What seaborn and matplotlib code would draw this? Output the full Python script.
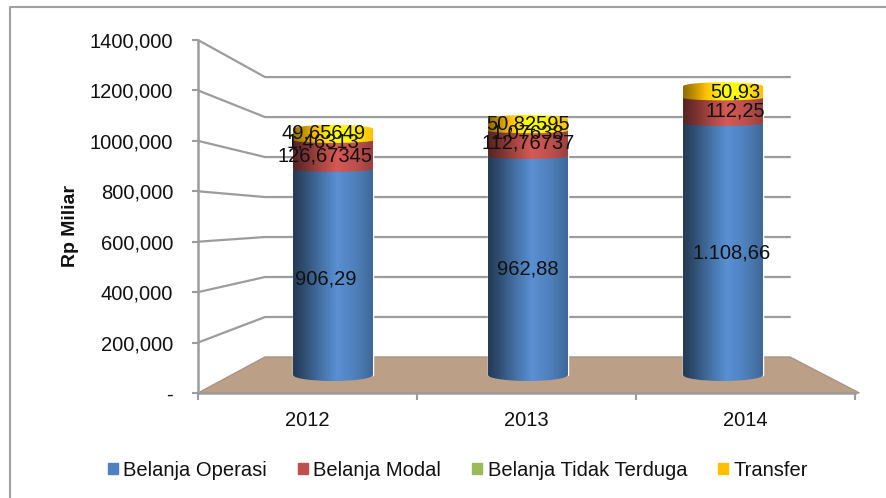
import matplotlib
matplotlib.use("Agg")
import matplotlib.pyplot as plt
import numpy as np
import pandas as pd
import seaborn as sns
from matplotlib.colors import to_rgb
from matplotlib.lines import Line2D
from matplotlib.patches import Ellipse, Patch, PathPatch, Polygon
from matplotlib.path import Path

years = ["2012", "2013", "2014"]
series = ["Belanja Operasi", "Belanja Modal", "Belanja Tidak Terduga", "Transfer"]
operasi = [906.29, 962.88, 1108.66]
modal = [126.67345, 112.76737, 112.25]
tak_terduga = [1.46313, 1.07638, 0.0]
transfer = [49.65649, 50.82595, 50.93]
labels = [
    ["906,29", "962,88", "1.108,66"],
    ["126,67345", "112,76737", "112,25"],
    ["1,46313", "1,07638", "-"],
    ["49,65649", "50,82595", "50,93"],
]
colors = ["#4F81BD", "#C0504D", "#9BBB59", "#FFC000"]
y_ticks = [0, 200, 400, 600, 800, 1000, 1200, 1400]
y_labels = ["-", "200,000", "400,000", "600,000", "800,000", "1000,000", "1200,000", "1400,000"]

W, H = 886, 498
# label nudges in pixels, per series and year
x_nudge = [[-7, 0, 9], [-8, 0, 12], [-10, 0, 12], [-9, 0, 12]]
y_nudge = [[-7, -3, -4], [-1, 1, 0], [-2, -2, 0], [2, 1, 0]]
lift = [1.0, 1.0, 1.0, 1.25]  # gold side is less dark in the original
PX = 0.227  # bar pixels per unit
GRID = "#9C9C9C"


def box(left, top, right, bottom):
    return [left / W, 1 - bottom / H, (right - left) / W, (bottom - top) / H]


def shaded(color, boost=1.0):
    stops = np.array([0.0, 0.12, 0.35, 0.55, 0.8, 1.0])
    gain = np.array([0.45, 0.58, 0.88, 1.12, 0.98, 0.8])
    xs = np.linspace(0, 1, 160)
    g = np.interp(xs, stops, gain) * boost
    rgb = np.array(to_rgb(color))
    return np.clip(g[:, None] * rgb, 0, 1)[None, :, :]


def cylinder_side(x0, x1, y0, y1, sag):
    # rectangle with a curved lower edge
    k = 0.5523
    xc = (x0 + x1) / 2
    rx = (x1 - x0) / 2
    verts = [(x0, y1), (x1, y1), (x1, y0),
             (x1, y0 - k * sag), (xc + k * rx, y0 - sag), (xc, y0 - sag),
             (xc - k * rx, y0 - sag), (x0, y0 - k * sag), (x0, y0), (x0, y1)]
    codes = [Path.MOVETO, Path.LINETO, Path.LINETO,
             Path.CURVE4, Path.CURVE4, Path.CURVE4,
             Path.CURVE4, Path.CURVE4, Path.CURVE4, Path.CLOSEPOLY]
    return Path(verts, codes)


sns.set_theme(style="white")
plt.rcParams["font.family"] = ["Liberation Sans", "DejaVu Sans"]
fig = plt.figure(figsize=(W / 100, H / 100), dpi=100)

# chart border, only the top and left edges are in the picture
fig.add_artist(Line2D([10 / W, 10 / W, 1], [0, 1 - 7 / H, 1 - 7 / H], transform=fig.transFigure,
                      color="#A0A0A0", lw=1.5))

# walls and floor, axis is the front edge of the 3d box
ax = fig.add_axes(box(198, 40, 855, 393))
ax.set_xlim(0, 3)
ax.set_ylim(0, 1400)
ax.patch.set_alpha(0)
back_l, back_r = 0.306, 2.703
back = lambda v: 142.8 + v * 0.793

ax.add_patch(Polygon([(0, 0), (back_l, back(0)), (back_r, back(0)), (3.02, 0)],
                     closed=True, fc="#BC9F87", ec="#A89484", lw=1, clip_on=False))
for v in y_ticks[1:]:
    ax.plot([0, back_l, back_r], [v, back(v), back(v)], color=GRID, lw=1.6)

ax.set_xticks([0, 1, 2, 3])
ax.set_xticklabels([])
ax.set_xticks([0.5, 1.5, 2.5], labels=years, minor=True)
ax.set_yticks(y_ticks, labels=y_labels)
ax.tick_params(axis="y", length=4.5, width=1.5, color=GRID, pad=13.5, labelsize=14.5,
               labelcolor="#111111", left=True)
ax.tick_params(axis="x", which="major", length=5, width=1.5, color=GRID, bottom=True)
ax.tick_params(axis="x", which="minor", length=0, pad=13, labelsize=14.5, labelcolor="#111111")
sns.despine(ax=ax, top=True, right=True)
for side in ["left", "bottom"]:
    ax.spines[side].set_color(GRID)
    ax.spines[side].set_linewidth(1.8)
ax.set_ylabel("Rp Miliar", fontsize=14, fontweight="bold", color="#111111")
ax.yaxis.set_label_coords((79 - 198) / 657, (393 - 226) / 353)

# bars sit mid depth, so on their own scale
bx = fig.add_axes(box(198, 40, 855, 393))
bx.patch.set_alpha(0)

df = pd.DataFrame({"year": years, series[0]: operasi, series[1]: modal,
                   series[2]: tak_terduga, series[3]: transfer})
bottom = np.zeros(len(years))
mids = []
sag = [6.0, 2.5, 2.5, 2.5]
for s, name in enumerate(series):
    vals = df[name].to_numpy()
    sns.barplot(data=df, x="year", y=name, bottom=bottom, color=colors[s], width=0.41,
                saturation=1, ax=bx, errorbar=None)
    mids.append(bottom + vals / 2)
    bottom = bottom + vals

per_unit = 1 / PX
bars = bx.patches
for s in range(len(series)):
    for i in range(len(years)):
        r = bars[s * len(years) + i]
        if r.get_height() <= 0:
            continue
        x0, x1 = r.get_x(), r.get_x() + r.get_width()
        y0, y1 = r.get_y(), r.get_y() + r.get_height()
        path = cylinder_side(x0, x1, y0, y1, sag[s] * per_unit)
        im = bx.imshow(shaded(colors[s], lift[s]), extent=(x0, x1, y0 - 8 * per_unit, y1 + 1), aspect="auto",
                       zorder=3 + s, interpolation="bilinear")
        im.set_clip_path(PathPatch(path, transform=bx.transData))
        if s == len(series) - 1:
            cap = Ellipse(((x0 + x1) / 2, y1), x1 - x0, 8 * per_unit, transform=bx.transData)
            top = bx.imshow(shaded(colors[s], lift[s]), extent=(x0, x1, y1 - 5 * per_unit, y1 + 5 * per_unit),
                            aspect="auto", zorder=3 + s, interpolation="bilinear")
            top.set_clip_path(cap)
bx.set_xlim((198 - 333) / 195, (855 - 333) / 195)
bx.set_ylim(-18 / PX, 335 / PX)
bx.axis("off")

for s in range(len(series)):
    for i in range(len(years)):
        bx.annotate(labels[s][i], (i, mids[s][i]), xytext=(x_nudge[s][i] * 0.72, y_nudge[s][i] * 0.72),
                    textcoords="offset points", ha="center", va="center", fontsize=14.5,
                    color="#111111", zorder=20)

handles = [Patch(color=c, label=n) for c, n in zip(colors, series)]
fig.legend(handles=handles, ncols=4, frameon=False, fontsize=14.5, loc="center",
           bbox_to_anchor=(458 / W, 1 - 470 / H), handlelength=0.5, handleheight=0.5,
           handletextpad=0.25, columnspacing=1.55, labelcolor="#111111")

fig.savefig("out.png", dpi=100)
